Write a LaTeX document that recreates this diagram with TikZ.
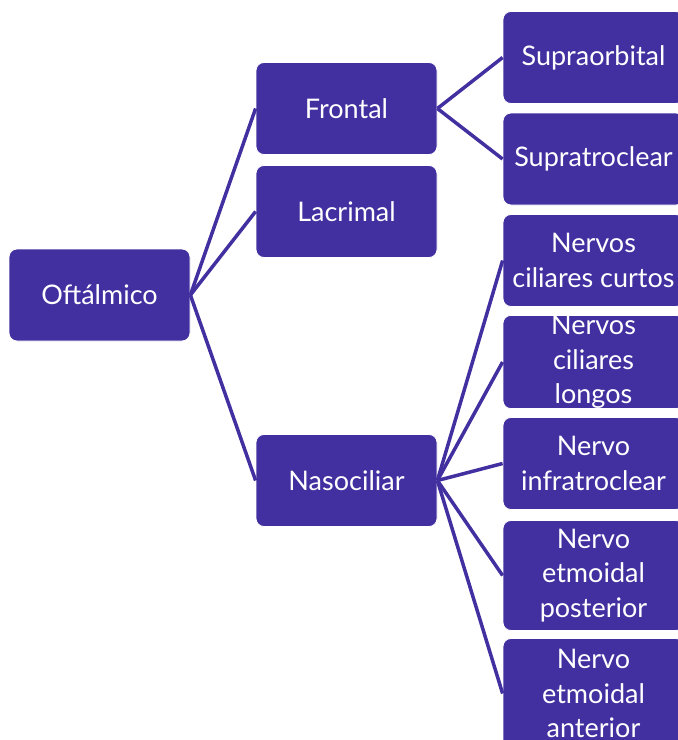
\documentclass[tikz,border=0pt]{standalone}
\usepackage{fontspec}
\setmainfont{Lato}
\usetikzlibrary{positioning}
\definecolor{roxo}{RGB}{66,47,160}

\begin{document}
\begin{tikzpicture}[x=1pt, y=-1pt, node distance=101.5pt, on grid,
  ramo/.style={rectangle, rounded corners=8pt, fill=roxo, draw=white, line width=0.8pt,
    text=white, align=center, minimum width=181pt, minimum height=92pt, inner sep=0pt,
    font=\fontsize{27}{34.5}\selectfont},
  liga/.style={draw=roxo, line width=3.5pt}]

\useasboundingbox (0,0) rectangle (678,740);
\clip (0,0) rectangle (678,740);

% tronco e ramos
\node[ramo] (oft) at (99.5,295) {Oftálmico};
\node[ramo] (frontal) at (346.5,108.5) {Frontal};
\node[ramo, below=103pt of frontal] (lacrimal) {Lacrimal};
\node[ramo] (naso) at (346.5,480.5) {Nasociliar};

% terminais
\node[ramo] (supraorb) at (593.5,57.5) {Supraorbital};
\node[ramo, below=of supraorb] (supratroc) {Supratroclear};
\node[ramo, below=of supratroc] (curtos) {Nervos\\ciliares curtos};
\node[ramo, below=of curtos] (longos) {Nervos\\ciliares\\longos};
\node[ramo, below=of longos] (infratroc) {Nervo\\infratroclear};
\node[ramo, minimum height=110pt, below=112pt of infratroc] (etmpost) {Nervo\\etmoidal\\posterior};
\node[ramo, minimum height=110pt, below=118pt of etmpost] (etmant) {Nervo\\etmoidal\\anterior};

\path[liga]
(oft.east) edge (frontal.west)
           edge (lacrimal.west)
           edge (naso.west)
(frontal.east) edge (supraorb.west)
               edge (supratroc.west)
(naso.east) edge (curtos.west)
            edge (longos.west)
            edge (infratroc.west)
            edge (etmpost.west)
            edge (etmant.west);

\end{tikzpicture}
\end{document}
